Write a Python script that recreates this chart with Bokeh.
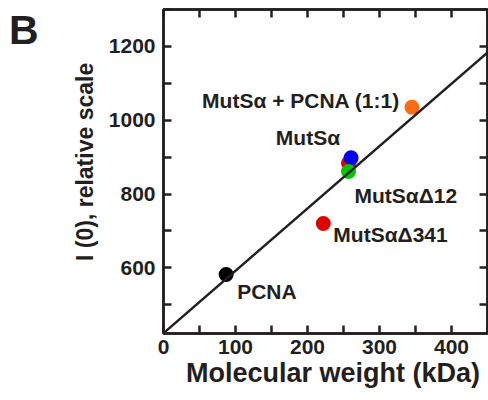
from bokeh.plotting import figure
from bokeh.models import FixedTicker, LinearAxis, ColumnDataSource, Slope, Range1d
from bokeh.embed import file_html
from bokeh.resources import INLINE
from bokeh.core.properties import value

# ---- data ----
names = ["PCNA", "MutSαΔ341", "", "MutSα", "MutSαΔ12", "MutSα + PCNA (1:1)"]
mol_weight = [87, 222, 257, 260.5, 257, 345]          # kDa
i_zero = [582, 720, 884, 898, 861, 1035]               # I(0), relative scale
point_colors = ["#000000", "#dd0000", "#dd0000", "#0000ee", "#00c800", "#ff6a13"]
fit_slope = 1.69
fit_intercept = 423
x_ticks = [0, 100, 200, 300, 400]
x_minor = [50, 150, 250, 350, 450]
y_ticks = [600, 800, 1000, 1200]
y_minor = [500, 700, 900, 1100, 1300]
panel_letter = "B"

# ---- styles ----
label_dx = [11, 10, 0, -11, 6, -12]
label_dy = [17, 11, 0, -20, 24, -7]
label_align = ["left", "left", "left", "right", "left", "right"]
LETTER_ROW = 1245   # vertical placement of the panel letter (in y-axis units)

INK = "#231f20"
FONT = "Liberation Sans"
NB = "\u00a0"

p = figure(width=488, height=400, output_backend="svg", toolbar_location=None,
           x_range=Range1d(0, 450), y_range=Range1d(422, 1300),
           min_border_left=163, min_border_right=1, min_border_top=9, min_border_bottom=67,
           x_axis_label=NB * 2 + "Molecular weight (kDa)",
           y_axis_label=NB * 3 + "I (0), relative scale")
p.grid.visible = False
p.background_fill_color = "white"
p.border_fill_color = "white"
p.outline_line_color = INK
p.outline_line_width = 2.5
p.outline_line_alpha = 1

def style_axis(ax, ticks, minor, show_labels):
    ax.ticker = FixedTicker(ticks=ticks, minor_ticks=minor)
    ax.axis_line_color = INK
    ax.axis_line_width = 2.5
    ax.major_tick_line_color = INK
    ax.minor_tick_line_color = INK
    ax.major_tick_line_width = 2.5
    ax.minor_tick_line_width = 2.5
    ax.major_tick_in = 8
    ax.major_tick_out = 0
    ax.minor_tick_in = 8
    ax.minor_tick_out = 0
    ax.major_label_text_font = FONT
    ax.major_label_text_font_style = "bold"
    ax.major_label_text_color = INK
    ax.major_label_text_font_size = "21px"
    if not show_labels:
        ax.major_label_overrides = {t: "" for t in ticks}
        ax.major_label_standoff = 0
        ax.axis_label = None

xa = p.xaxis[0]
ya = p.yaxis[0]
style_axis(xa, x_ticks, x_minor, True)
style_axis(ya, y_ticks, y_minor, True)
xa.major_label_standoff = 6
ya.major_label_standoff = 8
for ax, size in ((xa, "27px"), (ya, "23px")):
    ax.axis_label_text_font = FONT
    ax.axis_label_text_font_style = "bold"
    ax.axis_label_text_font_size = size
    ax.axis_label_text_color = INK
xa.axis_label_standoff = 1
ya.axis_label_standoff = 8

top_ax = LinearAxis()
right_ax = LinearAxis()
style_axis(top_ax, x_ticks + x_minor, [], False)
style_axis(right_ax, y_ticks + y_minor, [], False)
p.add_layout(top_ax, "above")
p.add_layout(right_ax, "right")

# panel letter, carried by a bare outer axis on the left
letter_ax = LinearAxis(ticker=FixedTicker(ticks=[LETTER_ROW], minor_ticks=[]),
                       major_label_overrides={LETTER_ROW: panel_letter},
                       axis_line_color=None, major_tick_line_color=None,
                       minor_tick_line_color=None, major_tick_out=0, major_tick_in=0,
                       major_label_standoff=30, major_label_orientation="horizontal",
                       major_label_text_font=FONT, major_label_text_font_style="bold",
                       major_label_text_font_size="41px", major_label_text_color=INK)
p.add_layout(letter_ax, "left")

src = ColumnDataSource(dict(x=mol_weight, y=i_zero, c=point_colors, name=names,
                            dx=label_dx, dy=label_dy, align=label_align))
p.scatter("x", "y", source=src, size=15, fill_color="c", line_color="c", line_width=0)
p.add_layout(Slope(gradient=fit_slope, y_intercept=fit_intercept, line_color=INK, line_width=2.5))
p.text("x", "y", text="name", source=src, x_offset="dx", y_offset="dy", text_align="align",
       text_baseline="alphabetic", text_font=value(FONT), text_font_style="bold",
       text_font_size="21px", text_color=INK)

open("out.html", "w").write(file_html(p, INLINE))
